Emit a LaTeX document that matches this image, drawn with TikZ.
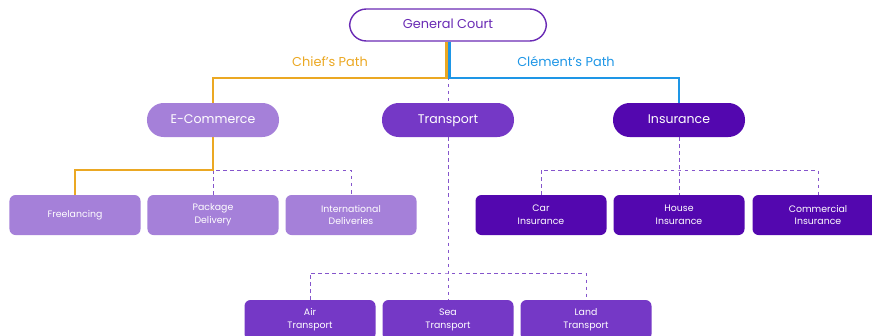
\documentclass[tikz,border=0pt]{standalone}
\usepackage{fontspec}
\setmainfont{Poppins}
\usetikzlibrary{positioning}

\definecolor{lightpurple}{HTML}{A580D9}
\definecolor{midpurple}{HTML}{7538C6}
\definecolor{darkpurple}{HTML}{5307AF}
\definecolor{courtpurple}{HTML}{6A2BB5}
\definecolor{linkpurple}{HTML}{8555CC}
\definecolor{chieforange}{HTML}{EBA823}
\definecolor{clementblue}{HTML}{1E96E6}

\tikzset{
  pill/.style={rounded corners=0.5cm, minimum width=3.96cm, minimum height=1.02cm,
    text=white, text height=1.5ex, text depth=0.3ex, font=\fontsize{10.7}{12}\selectfont},
  leaf/.style={rounded corners=0.18cm, minimum width=3.93cm, minimum height=1.2cm,
    text=white, align=center, font=\fontsize{8}{11}\selectfont},
  link/.style={linkpurple, dashed, line width=0.8pt},
  chief/.style={chieforange, line width=2.4pt},
  clement/.style={clementblue, line width=2.4pt},
  pathlabel/.style={font=\fontsize{11}{13}\selectfont},
}

\begin{document}
\begin{tikzpicture}[x=0.03cm, y=-0.03cm]

\useasboundingbox (0,0) rectangle (872,335);

% joints
\coordinate (split) at (448,78);
\coordinate (ebar) at (216,170);
\coordinate (ibar) at (679,170);
\coordinate (tbar) at (448,273);

% top
\node[pill, draw=courtpurple, line width=1.2pt, fill=white, text=courtpurple,
  minimum width=5.9cm, minimum height=0.96cm, font=\fontsize{11}{13}\selectfont] (court) at (448,25) {General Court};

% level one
\node[pill, fill=lightpurple] (ecom) at (213,120) {E-Commerce};
\node[pill, fill=midpurple] (trans) at (448,120) {Transport};
\node[pill, fill=darkpurple] (insur) at (679,120) {Insurance};

% level two
\node[leaf, fill=lightpurple] (free) at (75,215) {Freelancing};
\node[leaf, fill=lightpurple] (pack) at (213,215) {Package\\Delivery};
\node[leaf, fill=lightpurple] (intl) at (351,215) {International\\Deliveries};

\node[leaf, fill=darkpurple] (car) at (541,215) {Car\\Insurance};
\node[leaf, fill=darkpurple] (house) at (679,215) {House\\Insurance};
\node[leaf, fill=darkpurple] (comm) at (818,215) {Commercial\\Insurance};

\node[leaf, fill=midpurple] (air) at (310,320) {Air\\Transport};
\node[leaf, fill=midpurple] (sea) at (448,320) {Sea\\Transport};
\node[leaf, fill=midpurple] (land) at (586,320) {Land\\Transport};

% dashed links
\draw[link] (court.south) -- (trans.north);
\draw[link] (trans.south) -- (sea.north);
\draw[link] (air.north) |- (tbar) -| (land.north);
\draw[link] (pack.north) |- (ebar) -| (intl.north);
\draw[link] (insur.south) -- (house.north);
\draw[link] (car.north) |- (ibar) -| (comm.north);

% paths
\draw[chief] ([xshift=-1.4pt]court.south) -- ([xshift=-1.4pt]court.south |- split) -| (ecom.north);
\draw[chief] (ecom.south) -- (ecom.south |- ebar) -| (free.north);
\draw[clement] ([xshift=1.4pt]court.south) -- ([xshift=1.4pt]court.south |- split) -| (insur.north);

\node[pathlabel, chieforange] (chieflbl) at (330,62) {Chief's Path};
\node[pathlabel, clementblue] (clementlbl) at (566,62) {Clément's Path};

\end{tikzpicture}
\end{document}
